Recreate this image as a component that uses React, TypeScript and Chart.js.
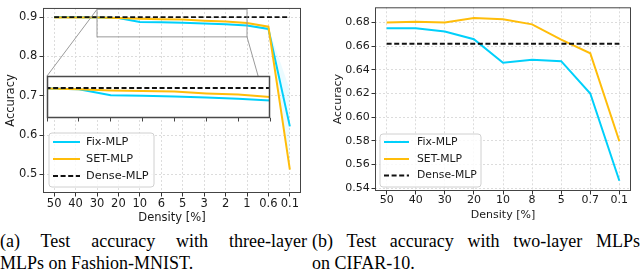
import React, { useEffect, useRef } from "react";
import { Chart, registerables } from "chart.js";

Chart.register(...registerables);

// ---------- (a) three-layer MLPs on Fashion-MNIST ----------
const fmCategories = ["50", "40", "30", "20", "10", "6", "5", "3", "2", "1", "0.6", "0.1"];
const fmFix = [0.9, 0.9, 0.899, 0.898, 0.888, 0.887, 0.886, 0.884, 0.882, 0.879, 0.870, 0.622];
const fmSet = [0.899, 0.899, 0.899, 0.898, 0.896, 0.895, 0.894, 0.891, 0.889, 0.885, 0.876, 0.512];
const fmDense = [0.9, 0.9, 0.9, 0.9, 0.9, 0.9, 0.9, 0.9, 0.9, 0.9, 0.9, 0.9];
const fmFixUpper = [0.901, 0.901, 0.9, 0.899, 0.889, 0.888, 0.887, 0.885, 0.883, 0.88, 0.873, 0.715];
const fmFixLower = [0.899, 0.899, 0.898, 0.897, 0.887, 0.886, 0.885, 0.883, 0.881, 0.878, 0.867, 0.53];
const fmYTicks = [0.5, 0.6, 0.7, 0.8, 0.9];
const fmYRange = [0.4524, 0.9236];
const fmXRange = [-0.52, 11.52];
const fmInsetX = [2, 9];
const fmInsetY = [0.85, 0.92];

// ---------- (b) two-layer MLPs on CIFAR-10 ----------
const cfCategories = ["50", "40", "30", "20", "10", "8", "5", "0.7", "0.1"];
const cfFix = [0.675, 0.675, 0.6724, 0.6658, 0.6459, 0.6484, 0.6473, 0.62, 0.5463];
const cfSet = [0.68, 0.6805, 0.68, 0.6838, 0.6827, 0.6784, 0.6655, 0.654, 0.5796];
const cfDense = [0.662, 0.662, 0.662, 0.662, 0.662, 0.662, 0.662, 0.662, 0.662];
const cfYTicks = [0.54, 0.56, 0.58, 0.6, 0.62, 0.64, 0.66, 0.68];
const cfYRange = [0.5376, 0.6928];
const cfXRange = [-0.4, 8.4];

const seriesNames = ["Fix-MLP", "SET-MLP", "Dense-MLP"];
const xTitle = "Density [%]";
const yTitle = "Accuracy";
const captionA = ["(a) Test accuracy with three-layer", "MLPs on Fashion-MNIST."];
const captionB = ["(b) Test accuracy with two-layer MLPs", "on CIFAR-10."];

const FIX_COLOR = "#00d0fb";
const SET_COLOR = "#ffbd0a";
const DENSE_COLOR = "#111111";
const TEXT = "#1a1a1a";
const FONT = "DejaVu Sans";

// inset box in the left canvas' pixel space
const INSET = { left: 47, top: 76, right: 270, bottom: 118 };

const xy = (vals: number[]) => vals.map((y, i) => ({ x: i, y }));

function lineSets(fix: number[], set: number[], dense: number[]) {
  return [
    { label: seriesNames[0], legend: true, data: xy(fix), borderColor: FIX_COLOR, borderWidth: 2, pointRadius: 0, fill: false, order: 3 },
    { label: seriesNames[1], legend: true, data: xy(set), borderColor: SET_COLOR, borderWidth: 2, pointRadius: 0, fill: false, order: 2 },
    { label: seriesNames[2], legend: true, data: xy(dense), borderColor: DENSE_COLOR, borderWidth: 1.8, borderDash: [5, 2.6], pointRadius: 0, fill: false, order: 1 },
  ];
}

function framePlugin(color: string, width: number) {
  return {
    id: "frame",
    afterDatasetsDraw(chart: any) {
      const { ctx, chartArea: a } = chart;
      ctx.save();
      ctx.strokeStyle = color;
      ctx.lineWidth = width;
      ctx.strokeRect(a.left + 0.5, a.top + 0.5, a.right - a.left - 1, a.bottom - a.top - 1);
      ctx.restore();
    },
  };
}

function legendPlugin(L: any) {
  return {
    id: "customLegend",
    afterDraw(chart: any) {
      const ctx = chart.ctx;
      ctx.save();
      const r = 3;
      ctx.beginPath();
      ctx.moveTo(L.x + r, L.y);
      ctx.arcTo(L.x + L.w, L.y, L.x + L.w, L.y + L.h, r);
      ctx.arcTo(L.x + L.w, L.y + L.h, L.x, L.y + L.h, r);
      ctx.arcTo(L.x, L.y + L.h, L.x, L.y, r);
      ctx.arcTo(L.x, L.y, L.x + L.w, L.y, r);
      ctx.closePath();
      ctx.fillStyle = "rgba(255,255,255,0.82)";
      ctx.fill();
      ctx.strokeStyle = "#d0d0d0";
      ctx.lineWidth = 1;
      ctx.stroke();
      const items = chart.data.datasets.filter((d: any) => d.legend);
      items.forEach((d: any, i: number) => {
        const yy = L.rows[i];
        ctx.beginPath();
        ctx.setLineDash(d.borderDash || []);
        ctx.strokeStyle = d.borderColor;
        ctx.lineWidth = d.borderWidth;
        ctx.moveTo(L.lineX0, yy);
        ctx.lineTo(L.lineX1, yy);
        ctx.stroke();
        ctx.setLineDash([]);
        ctx.fillStyle = TEXT;
        ctx.font = `${L.font}px "${FONT}"`;
        ctx.textBaseline = "middle";
        ctx.textAlign = "left";
        ctx.fillText(d.label, L.textX, yy);
      });
      ctx.restore();
    },
  };
}

function axisOptions(o: any) {
  const tickFont = { family: FONT, size: o.font, lineHeight: 1 };
  const titleFont = { family: FONT, size: o.font, lineHeight: 1.2 };
  const grid = { color: "#dcdcdc", lineWidth: 1, tickLength: 3.5, tickColor: "#333", tickWidth: 1, tickBorderDash: [] };
  return {
    x: {
      type: "linear",
      min: o.xRange[0],
      max: o.xRange[1],
      afterBuildTicks: (s: any) => { s.ticks = o.categories.map((_: string, i: number) => ({ value: i })); },
      afterFit: (s: any) => { s.height = o.xAxisHeight; },
      ticks: { autoSkip: false, maxRotation: 0, color: TEXT, font: tickFont, padding: o.xTickPad, callback: (v: number) => o.categories[Math.round(v)] },
      grid,
      border: { display: false, dash: [2, 2] },
      title: { display: true, text: xTitle, color: TEXT, font: titleFont, padding: { top: 0, bottom: o.xTitlePad } },
    },
    y: {
      type: "linear",
      min: o.yRange[0],
      max: o.yRange[1],
      afterBuildTicks: (s: any) => { s.ticks = o.yTicks.map((v: number) => ({ value: v })); },
      afterFit: (s: any) => { s.width = o.yAxisWidth; },
      ticks: { color: TEXT, font: tickFont, padding: o.yTickPad, callback: (v: number) => Number(v).toFixed(o.digits) },
      grid,
      border: { display: false, dash: [2, 2] },
      title: { display: true, text: yTitle, color: TEXT, font: titleFont, padding: { top: o.yTitlePad, bottom: 0 } },
    },
  };
}

function leftConfig(): any {
  const zoomMark = {
    id: "zoomMark",
    afterDatasetsDraw(chart: any) {
      const { ctx, scales } = chart;
      const x0 = scales.x.getPixelForValue(fmInsetX[0]);
      const x1 = scales.x.getPixelForValue(fmInsetX[1]);
      const y0 = scales.y.getPixelForValue(fmInsetY[1]);
      const y1 = scales.y.getPixelForValue(fmInsetY[0]);
      ctx.save();
      ctx.strokeStyle = "#9a9a9a";
      ctx.lineWidth = 1;
      ctx.strokeRect(x0, y0, x1 - x0, y1 - y0);
      ctx.beginPath();
      ctx.moveTo(x0, y0);
      ctx.lineTo(INSET.left, INSET.top);
      ctx.moveTo(x1, y1);
      ctx.lineTo(INSET.right, INSET.bottom);
      ctx.stroke();
      ctx.restore();
    },
  };
  return {
    type: "line",
    data: {
      datasets: [
        ...lineSets(fmFix, fmSet, fmDense),
        { label: "fix-hi", data: xy(fmFixUpper), borderWidth: 0, pointRadius: 0, fill: false, order: 5 },
        { label: "fix-lo", data: xy(fmFixLower), borderWidth: 0, pointRadius: 0, fill: "-1", backgroundColor: "rgba(0,200,255,0.08)", order: 4 },
      ],
    },
    options: {
      responsive: false,
      animation: false,
      devicePixelRatio: 1,
      events: [],
      layout: { padding: { left: 0, top: 1, right: 19, bottom: 0 } },
      plugins: { legend: { display: false }, tooltip: { enabled: false } },
      scales: axisOptions({
        categories: fmCategories, xRange: fmXRange, yRange: fmYRange, yTicks: fmYTicks, digits: 1,
        font: 11.5, xAxisHeight: 37, yAxisWidth: 43, xTickPad: 1.5, yTickPad: 2.2, xTitlePad: 5.1, yTitlePad: 4.1,
      }),
    },
    plugins: [
      zoomMark,
      framePlugin("#444", 1),
      legendPlugin({ x: 49, y: 133, w: 105, h: 54, rows: [142, 159, 176], lineX0: 53, lineX1: 80, textX: 86, font: 11.3 }),
    ],
  };
}

function insetConfig(): any {
  return {
    type: "line",
    data: { datasets: lineSets(fmFix, fmSet, fmDense) },
    options: {
      responsive: false,
      animation: false,
      devicePixelRatio: 1,
      events: [],
      layout: { padding: { left: 3, top: 2, right: 4, bottom: 0 } },
      plugins: { legend: { display: false }, tooltip: { enabled: false } },
      scales: {
        x: {
          type: "linear",
          min: fmInsetX[0],
          max: fmInsetX[1],
          afterBuildTicks: (s: any) => {
            s.ticks = fmCategories.map((_, i) => i).filter((i) => i >= fmInsetX[0] && i <= fmInsetX[1]).map((i) => ({ value: i }));
          },
          afterFit: (s: any) => { s.height = 6; },
          ticks: { display: false },
          grid: { drawOnChartArea: false, drawTicks: true, tickLength: 3.5, tickColor: "#444", tickWidth: 1 },
          border: { display: false },
        },
        y: { type: "linear", display: false, min: fmInsetY[0], max: fmInsetY[1] },
      },
    },
    plugins: [
      {
        id: "insetBg",
        beforeDraw(chart: any) {
          const { ctx, chartArea: a } = chart;
          ctx.save();
          ctx.fillStyle = "#ffffff";
          ctx.fillRect(a.left, a.top, a.right - a.left, a.bottom - a.top);
          ctx.restore();
        },
      },
      framePlugin("#4a4a4a", 1.5),
    ],
  };
}

function rightConfig(): any {
  return {
    type: "line",
    data: { datasets: lineSets(cfFix, cfSet, cfDense) },
    options: {
      responsive: false,
      animation: false,
      devicePixelRatio: 1,
      events: [],
      layout: { padding: { left: 0, top: 1, right: 9, bottom: 0 } },
      plugins: { legend: { display: false }, tooltip: { enabled: false } },
      scales: axisOptions({
        categories: cfCategories, xRange: cfXRange, yRange: cfYRange, yTicks: cfYTicks, digits: 2,
        font: 11, xAxisHeight: 39, yAxisWidth: 55, xTickPad: 0.5, yTickPad: 1.8, xTitlePad: 8.4, yTitlePad: 11.7,
      }),
    },
    plugins: [
      framePlugin("#444", 1),
      legendPlugin({ x: 60, y: 134, w: 101, h: 53, rows: [142, 159, 175.5], lineX0: 64, lineX1: 89, textX: 97, font: 10.8 }),
    ],
  };
}

function ChartCanvas({ make, left, top, width, height, z }: any) {
  const ref = useRef<HTMLCanvasElement>(null);
  useEffect(() => {
    const chart = new Chart(ref.current as HTMLCanvasElement, make());
    return () => chart.destroy();
  }, []);
  return (
    <canvas
      ref={ref}
      width={width}
      height={height}
      style={{ position: "absolute", left, top, width, height, zIndex: z || 0 }}
    />
  );
}

function Caption({ lines, left, width, top }: any) {
  const base: any = {
    position: "absolute",
    left,
    width,
    fontFamily: '"Liberation Serif", serif',
    fontSize: 18,
    lineHeight: "22px",
    color: "#000",
  };
  return (
    <>
      <div style={{ ...base, top, textAlign: "justify", textAlignLast: "justify" }}>{lines[0]}</div>
      <div style={{ ...base, top: top + 22, textAlign: "left" }}>{lines[1]}</div>
    </>
  );
}

export default function App() {
  return (
    <div
      style={{
        position: "fixed",
        left: 0,
        top: 0,
        width: 640,
        height: 279,
        background: "#ffffff",
        overflow: "hidden",
      }}
    >
      <ChartCanvas make={leftConfig} left={0} top={0} width={320} height={230} />
      <ChartCanvas make={insetConfig} left={44} top={74} width={230} height={50} z={1} />
      <ChartCanvas make={rightConfig} left={320} top={0} width={320} height={230} />
      <Caption lines={captionA} left={0} width={307} top={230} />
      <Caption lines={captionB} left={312} width={328} top={230} />
    </div>
  );
}
